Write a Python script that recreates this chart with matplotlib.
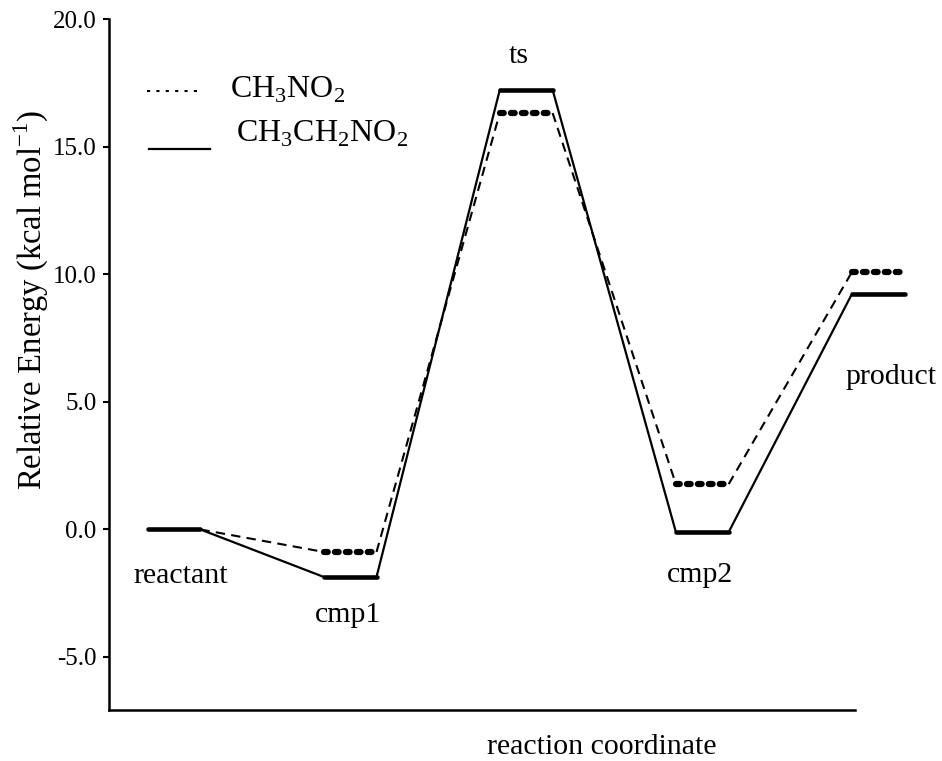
import matplotlib
matplotlib.use("Agg")
import matplotlib.pyplot as plt

states = ["reactant", "cmp1", "ts", "cmp2", "product"]
pos = [1, 2, 3, 4, 5]
e_ethyl = [0.0, -1.86, 17.24, -0.1, 9.24]     # CH3CH2NO2 (solid)
e_methyl = [0.0, -0.88, 16.33, 1.78, 10.1]    # CH3NO2 (dashed)
yticks = [-5.0, 0.0, 5.0, 10.0, 15.0, 20.0]

plt.rcParams['font.family'] = ['Liberation Serif', 'DejaVu Serif']
plt.rcParams['mathtext.fontset'] = 'custom'
plt.rcParams['mathtext.rm'] = 'Liberation Serif'
W, H = 942, 761
fig = plt.figure(figsize=(W/100, H/100), dpi=100)
x0, x1, ytop, ybot = 109, 855, 19.5, 710
ax = fig.add_axes([x0/W, 1-ybot/H, (x1-x0)/W, (ybot-ytop)/H])

def ptxt(px, py, s, **kw):
    fig.text(px/W, 1-py/H, s, **kw)

hw = 0.15
# solid series
for i, (p, e) in enumerate(zip(pos, e_ethyl)):
    ax.plot([p-hw, p+hw], [e, e], color='black', lw=3.3, solid_capstyle='round', clip_on=False)
    if i < len(pos)-1:
        ax.plot([p+hw, pos[i+1]-hw], [e, e_ethyl[i+1]], color='black', lw=1.6, clip_on=False)
# dashed series
for i, (p, e) in enumerate(zip(pos, e_methyl)):
    if i > 0:
        ax.plot([p-hw, p+hw], [e, e], color='black', lw=4.5, ls=(0, (0.6, 1.15)),
                dash_capstyle='round', clip_on=False)
    if i < len(pos)-1:
        ax.plot([p+hw, pos[i+1]-hw], [e, e_methyl[i+1]], color='black', lw=1.5,
                ls=(0, (4.5, 3)), clip_on=False)

ax.set_xlim(1 - (174-x0)/176.1, 1 + (x1-174)/176.1)
ax.set_ylim(-7.08, 20.0)
ax.set_yticks(yticks)
ax.set_yticklabels([f"{t:.1f}" for t in yticks])
ax.set_xticks([])
ax.spines['top'].set_visible(False)
ax.spines['right'].set_visible(False)
ax.spines['left'].set_linewidth(1.8)
ax.spines['bottom'].set_linewidth(1.8)
ax.tick_params(axis='y', direction='out', length=4, width=1.5, labelsize=18, pad=5)

fs = 21.5
ptxt(181, 583, "reactant", fontsize=fs, ha='center', va='baseline')
ptxt(348, 622, "cmp1", fontsize=fs, ha='center', va='baseline')
ptxt(519, 63, "ts", fontsize=fs, ha='center', va='baseline')
ptxt(700, 582, "cmp2", fontsize=fs, ha='center', va='baseline')
ptxt(891, 384, "product", fontsize=fs, ha='center', va='baseline')
ptxt(487, 754, "reaction coordinate", fontsize=fs, ha='left', va='baseline')
ptxt(31, 300, "Relative Energy (kcal mol$^{\\mathregular{-1}}$)", fontsize=23.5,
     ha='center', va='center', rotation=90)

# legend drawn manually
def px2x(px):
    return 1 + (px-174)/176.1
def py2y(py):
    return (529.5-py)/25.5
ax.plot([px2x(147), px2x(197)], [py2y(91)]*2, color='black', lw=1.5, ls=(0, (1.5, 3)), clip_on=False)
ptxt(230, 98, "CH$_\\mathregular{3}$NO$_\\mathregular{2}$", fontsize=23, va='baseline', ha='left')
ax.plot([px2x(149), px2x(210)], [py2y(149)]*2, color='black', lw=1.6, clip_on=False)
ptxt(236, 142, "CH$_\\mathregular{3}$CH$_\\mathregular{2}$NO$_\\mathregular{2}$", fontsize=23, va='baseline', ha='left')

fig.savefig("out.png", dpi=100)
